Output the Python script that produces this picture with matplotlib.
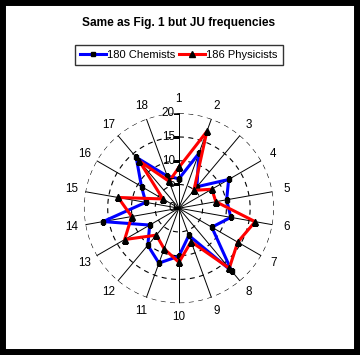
import numpy as np
import matplotlib
matplotlib.use("Agg")
import matplotlib.pyplot as plt
from matplotlib.lines import Line2D
from matplotlib.patches import Rectangle

plt.rcParams['font.family'] = ['Liberation Sans', 'DejaVu Sans']

# ------------------------------------------
# Data
# ------------------------------------------
categories = [str(i) for i in range(1, 19)]
chemists = [6.2, 12.3, 5.9, 12.1, 10.2, 11.1, 8.0, 17.3, 6.1,
            10.1, 12.3, 10.2, 7.1, 16.2, 7.1, 9.1, 14.0, 7.2]
physicists = [8.6, 17.2, 4.9, 8.0, 7.9, 16.3, 14.3, 16.5, 7.5,
              11.4, 9.1, 7.4, 13.2, 10.1, 13.0, 3.9, 13.0, 6.0]
r_ticks = [0, 5, 10, 15, 20]
labels = ["180 Chemists", "186 Physicists"]

# ------------------------------------------
# Figure
# ------------------------------------------
fig = plt.figure(figsize=(3.6, 3.55), dpi=100)
ax = fig.add_axes([0.233, 0.146, 0.528, 0.535], projection='polar')
ax.set_theta_zero_location('N')
ax.set_theta_direction(-1)
ax.set_ylim(0, 20)

theta = np.linspace(0, 2 * np.pi, len(categories), endpoint=False)
theta_c = np.append(theta, theta[0])

# spokes
for t in theta:
    ax.plot([t, t], [0, 20], color='k', lw=0.7, zorder=1)

# dashed rings
ring = np.linspace(0, 2 * np.pi, 361)
for r in r_ticks[1:]:
    ax.plot(ring, np.full_like(ring, r), color='k', lw=0.8,
            ls=(0, (4.5, 4)), zorder=1)

ax.grid(False)
ax.spines['polar'].set_visible(False)
ax.set_xticks([])
ax.set_yticks([])

# series
ax.plot(theta_c, np.append(chemists, chemists[0]), color='#0000FF', lw=2.2,
        marker='s', ms=3.4, mfc='k', mec='k', zorder=3)
ax.plot(theta_c, np.append(physicists, physicists[0]), color='#FF0000', lw=2.2,
        marker='^', ms=3.8, mfc='k', mec='k', zorder=4)

# spoke labels
for t, lab in zip(theta, categories):
    ax.text(t, 23.0, lab, ha='center', va='center', fontsize=8.4)

# radial axis labels and ticks
for r in r_ticks:
    ax.plot([0], [r], marker=0, color='k', ms=4, mew=0.8, zorder=2)
    ax.annotate(str(r), xy=(0, r), xytext=(-3, 0), textcoords='offset points',
                ha='right', va='center', fontsize=8.4, zorder=5)

# title and legend
fig.text(0.497, 0.936, "Same as Fig. 1 but JU frequencies", ha='center',
         va='center', fontsize=8.6, fontweight='bold')
handles = [
    Line2D([], [], color='#0000FF', lw=2.2, marker='s', ms=3.4, mfc='k', mec='k'),
    Line2D([], [], color='#FF0000', lw=2.2, marker='^', ms=3.8, mfc='k', mec='k'),
]
leg = fig.legend(handles, labels, loc='center', bbox_to_anchor=(0.497, 0.846),
                 ncol=2, fontsize=8, frameon=True, fancybox=False,
                 handlelength=2.3, handletextpad=0.15, columnspacing=0.3,
                 borderpad=0.45, borderaxespad=0)
leg._legend_box.sep = 0
leg.get_frame().set_edgecolor('k')
leg.get_frame().set_linewidth(1.0)

# black frame round the figure
fig.patches.append(Rectangle((0, 0), 1, 1, transform=fig.transFigure,
                             fill=False, edgecolor='k', lw=8.6))

fig.savefig("out.png", dpi=100)
